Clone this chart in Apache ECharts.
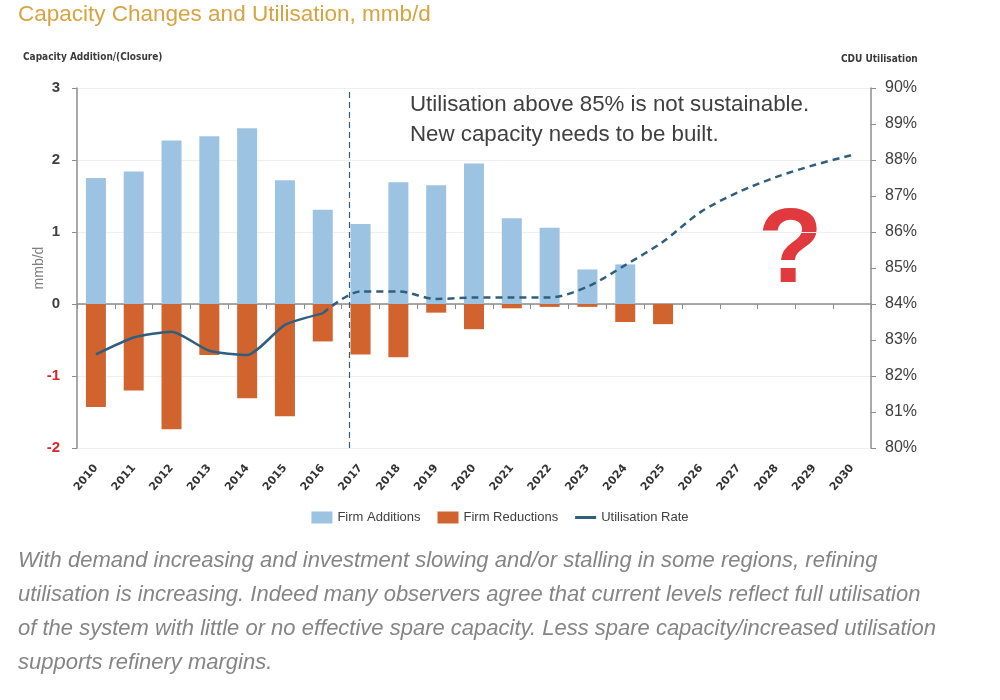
<!DOCTYPE html>
<html>
<head>
<meta charset="utf-8">
<script src="https://cdn.jsdelivr.net/npm/echarts@6/dist/echarts.min.js"></script>
<style>
html,body{margin:0;padding:0;background:#fff;}
#chart{width:1000px;height:700px;}
</style>
</head>
<body>
<div id="chart"></div>
<script>
const years = ['2010','2011','2012','2013','2014','2015','2016','2017','2018','2019','2020','2021','2022','2023','2024','2025','2026','2027','2028','2029','2030'];
const firmAdditions = [1.75, 1.84, 2.27, 2.33, 2.44, 1.72, 1.31, 1.11, 1.69, 1.65, 1.95, 1.19, 1.06, 0.48, 0.55, null, null, null, null, null, null];
const firmReductions = [-1.43, -1.20, -1.74, -0.71, -1.31, -1.56, -0.52, -0.70, -0.74, -0.12, -0.35, -0.06, -0.04, -0.04, -0.25, -0.28, null, null, null, null, null];
const utilisationActual = [82.6, 83.07, 83.23, 82.7, 82.58, 83.42, 83.74, null, null, null, null, null, null, null, null, null, null, null, null, null, null];
const utilisationForecast = [null, null, null, null, null, null, 83.74, 84.35, 84.35, 84.14, 84.18, 84.18, 84.18, 84.48, 85.08, 85.73, 86.56, 87.11, 87.53, 87.86, 88.14];
const leftTicks = [-2, -1, 0, 1, 2, 3];
const rightTicks = [80, 81, 82, 83, 84, 85, 86, 87, 88, 89, 90];
const forecastStart = 6.7;
const captionLines = [
  'With demand increasing and investment slowing and/or stalling in some regions, refining',
  'utilisation is increasing. Indeed many observers agree that current levels reflect full utilisation',
  'of the system with little or no effective spare capacity. Less spare capacity/increased utilisation',
  'supports refinery margins.'
];

const chart = echarts.init(document.getElementById('chart'));
const lineColor = '#2F5F7E';

const graphics = [
  {type:'text', left:18, top:3, style:{text:'Capacity Changes and Utilisation, mmb/d', fill:'#D6A441', font:'22.5px "Liberation Sans", Arial, sans-serif'}},
  {type:'text', left:23, top:52, style:{text:'Capacity Addition/(Closure)', fill:'#3a3a3a', font:'bold 10px "DejaVu Sans Condensed", "DejaVu Sans", sans-serif'}},
  {type:'text', left:841, top:54, style:{text:'CDU Utilisation', fill:'#3a3a3a', font:'bold 10px "DejaVu Sans Condensed", "DejaVu Sans", sans-serif'}},
  {type:'text', x:39, y:268, rotation:Math.PI/2, style:{text:'mmb/d', fill:'#7f7f7f', font:'14px "Liberation Sans", Arial, sans-serif', align:'center', verticalAlign:'middle'}},
  {type:'text', left:410, top:90, style:{text:'Utilisation above 85% is not sustainable.\nNew capacity needs to be built.', fill:'#404040', font:'22.3px "Liberation Sans", Arial, sans-serif', lineHeight:30}},
  {type:'text', left:758, top:200, style:{text:'?', fill:'#E0393E', font:'bold 106px "Liberation Sans", Arial, sans-serif'}}
];
captionLines.forEach(function(line, i){
  graphics.push({type:'text', left:18, top:550 + i*34, style:{text:line, fill:'#858585', font:'italic 22px "Liberation Sans", Arial, sans-serif'}});
});

const option = {
  animation:false,
  backgroundColor:'#ffffff',
  grid:{left:77, right:129, top:88, bottom:252, containLabel:false},
  legend:{
    bottom:171, left:'center', itemWidth:21, itemHeight:12, itemGap:17,
    textStyle:{fontSize:13, color:'#404040', fontFamily:'"Liberation Sans", Arial, sans-serif'},
    data:[
      {name:'Firm Additions', icon:'rect'},
      {name:'Firm Reductions', icon:'rect'},
      {name:'Utilisation Rate', icon:'path://M0,0 L21,0 L21,3 L0,3 Z'}
    ]
  },
  graphic:graphics,
  xAxis:[
    {type:'category', data:years, position:'bottom',
     axisLine:{show:false, onZero:false}, axisTick:{show:false},
     axisLabel:{rotate:50, margin:18, interval:0, color:'#333', fontWeight:'bold', fontSize:11, fontFamily:'"DejaVu Sans", sans-serif'},
     splitLine:{show:false}},
    {type:'category', data:years, position:'bottom',
     axisLine:{show:true, onZero:true, lineStyle:{color:'#8c8c8c', width:1.5}},
     axisTick:{show:true, length:5, lineStyle:{color:'#8c8c8c'}},
     axisLabel:{show:false}, splitLine:{show:false}},
    {type:'value', min:-0.5, max:20.5, show:false}
  ],
  yAxis:[
    {type:'value', min:-2, max:3, interval:1, position:'left',
     axisLine:{show:true, onZero:false, lineStyle:{color:'#8c8c8c', width:1.5}},
     axisTick:{show:true, length:5, lineStyle:{color:'#8c8c8c'}},
     axisLabel:{margin:17, fontSize:15, fontWeight:'bold', fontFamily:'"Liberation Sans", Arial, sans-serif',
       color:function(v){return v < 0 ? '#D9252B' : '#404040';},
       formatter:function(v){return leftTicks.indexOf(v) >= 0 ? String(v) : '';}},
     splitLine:{show:true, lineStyle:{color:'#efefef'}}},
    {type:'value', min:80, max:90, interval:1, position:'right',
     axisLine:{show:true, onZero:false, lineStyle:{color:'#8c8c8c', width:1.5}},
     axisTick:{show:true, length:5, lineStyle:{color:'#8c8c8c'}},
     axisLabel:{margin:14, fontSize:16, color:'#404040', fontFamily:'"Liberation Sans", Arial, sans-serif',
       formatter:function(v){return rightTicks.indexOf(v) >= 0 ? v + '%' : '';}},
     splitLine:{show:false}}
  ],
  series:[
    {name:'Firm Additions', type:'bar', stack:'cap', xAxisIndex:0, yAxisIndex:0, barWidth:20,
     itemStyle:{color:'#9DC3E3'}, data:firmAdditions},
    {name:'Firm Reductions', type:'bar', stack:'cap', xAxisIndex:0, yAxisIndex:0, barWidth:20,
     itemStyle:{color:'#D1632F'}, data:firmReductions},
    {name:'Utilisation Rate', type:'line', xAxisIndex:0, yAxisIndex:1, smooth:0.2, symbol:'none',
     lineStyle:{color:lineColor, width:2.5}, itemStyle:{color:lineColor}, data:utilisationActual, z:5},
    {name:'Utilisation Forecast', type:'line', xAxisIndex:0, yAxisIndex:1, smooth:0.3, symbol:'none',
     lineStyle:{color:lineColor, width:2.5, type:[7,5]}, itemStyle:{color:lineColor}, data:utilisationForecast, z:5},
    {name:'Forecast Divider', type:'scatter', xAxisIndex:2, yAxisIndex:0, symbolSize:0, data:[],
     markLine:{silent:true, symbol:'none', label:{show:false},
       lineStyle:{color:lineColor, type:[6,4], width:1.2},
       data:[{xAxis:forecastStart}]}}
  ]
};
chart.setOption(option);
</script>
</body>
</html>
